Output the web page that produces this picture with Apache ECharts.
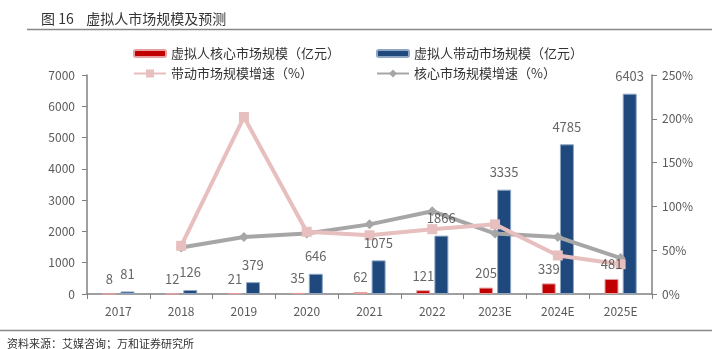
<!DOCTYPE html>
<html><head><meta charset="utf-8">
<script src="https://cdn.jsdelivr.net/npm/echarts@6/dist/echarts.min.js"></script>
<style>html,body{margin:0;padding:0;background:#fff}#c{width:717px;height:349px}</style>
</head><body><div id="c"></div>
<script>
const categories = ['2017','2018','2019','2020','2021','2022','2023E','2024E','2025E'];
const coreMarket = [8,12,21,35,62,121,205,339,481];
const drivenMarket = [81,126,379,646,1075,1866,3335,4785,6403];
const drivenGrowth = [null,55,202,71,67,74,79.5,44,34];
const coreGrowth = [null,53,65,69,79.5,94.5,69,65,41];
const leftTicks = {min:0,max:7000,interval:1000};
const rightTicks = {min:0,max:250,interval:50};
const names = ['虚拟人核心市场规模（亿元）','虚拟人带动市场规模（亿元）','带动市场规模增速（%）','核心市场规模增速（%）'];

const FONT = '"Noto Sans CJK SC", sans-serif';
const chart = echarts.init(document.getElementById('c'));
const legendBase = {orient:'horizontal', itemWidth:32, textStyle:{fontFamily:FONT,fontSize:13,color:'#333'}, itemGap:6};
const labelStyle = {show:true,position:'top',fontFamily:FONT,fontSize:13,color:'#404040'};
chart.setOption({
  animation:false,
  textStyle:{fontFamily:FONT},
  title:[
    {text:'图 16    虚拟人市场规模及预测', left:36, top:7, textStyle:{fontFamily:FONT,fontSize:14,fontWeight:'normal',color:'#333'}},
    {text:'资料来源：艾媒咨询；万和证券研究所', left:2, top:333, textStyle:{fontFamily:FONT,fontSize:11,fontWeight:'normal',color:'#333'}}
  ],
  graphic:[
    {type:'line', shape:{x1:27,y1:29.5,x2:712,y2:29.5}, style:{stroke:'#888',lineWidth:1.5}},
    {type:'line', shape:{x1:0,y1:330.5,x2:712,y2:330.5}, style:{stroke:'#888',lineWidth:1.5}}
  ],
  legend:[
    Object.assign({}, legendBase, {data:[names[0]], left:128, top:42, itemHeight:7}),
    Object.assign({}, legendBase, {data:[names[1]], left:371, top:42, itemHeight:7}),
    Object.assign({}, legendBase, {data:[names[2]], left:128, top:62, itemHeight:10}),
    Object.assign({}, legendBase, {data:[names[3]], left:371, top:62, itemHeight:10})
  ],
  grid:{left:87, right:65, top:75, bottom:55},
  xAxis:{type:'category', data:categories,
    axisLine:{lineStyle:{color:'#808080',width:1.5}},
    axisTick:{show:true, alignWithLabel:false, length:5, lineStyle:{color:'#808080'}},
    axisLabel:{fontFamily:FONT,fontSize:12,color:'#595959',margin:11}},
  yAxis:[
    {type:'value', min:leftTicks.min, max:leftTicks.max, interval:leftTicks.interval,
      splitLine:{show:false},
      axisLine:{show:true,lineStyle:{color:'#808080',width:1.5}},
      axisTick:{show:true,length:5,lineStyle:{color:'#808080'}},
      axisLabel:{fontFamily:FONT,fontSize:12,color:'#595959',margin:12,formatter:v=>String(v)}},
    {type:'value', min:rightTicks.min, max:rightTicks.max, interval:rightTicks.interval,
      splitLine:{show:false},
      axisLine:{show:true,lineStyle:{color:'#808080',width:1.5}},
      axisTick:{show:true,length:5,lineStyle:{color:'#808080'}},
      axisLabel:{fontFamily:FONT,fontSize:12,color:'#595959',margin:10,formatter:'{value}%'}}
  ],
  series:[
    {name:names[0], type:'bar', data:coreMarket, barWidth:14, barGap:'30%', z:1,
      itemStyle:{color:'#C00000',borderColor:'#E6A0A0',borderWidth:1}},
    {name:names[1], type:'bar', data:drivenMarket, barWidth:14, z:1,
      itemStyle:{color:'#1F497D',borderColor:'#8EA6C4',borderWidth:1}},
    {name:names[3], type:'line', yAxisIndex:1, data:coreGrowth, z:2,
      symbol:'diamond', symbolSize:10,
      lineStyle:{color:'#A6A6A6',width:4}, itemStyle:{color:'#A6A6A6'}},
    {name:names[2], type:'line', yAxisIndex:1, data:drivenGrowth, z:3,
      symbol:'rect', symbolSize:10,
      lineStyle:{color:'#E6BFBE',width:4}, itemStyle:{color:'#E6BFBE'}},
    {name:'core-label', type:'scatter', data:coreMarket, symbolSize:0, z:5, silent:true,
      label:Object.assign({}, labelStyle, {distance:8, offset:[-9,0]})},
    {name:'driven-label', type:'scatter', data:drivenMarket, symbolSize:0, z:5, silent:true,
      label:Object.assign({}, labelStyle, {distance:11, offset:[9,0]})}
  ]
});
</script></body></html>
